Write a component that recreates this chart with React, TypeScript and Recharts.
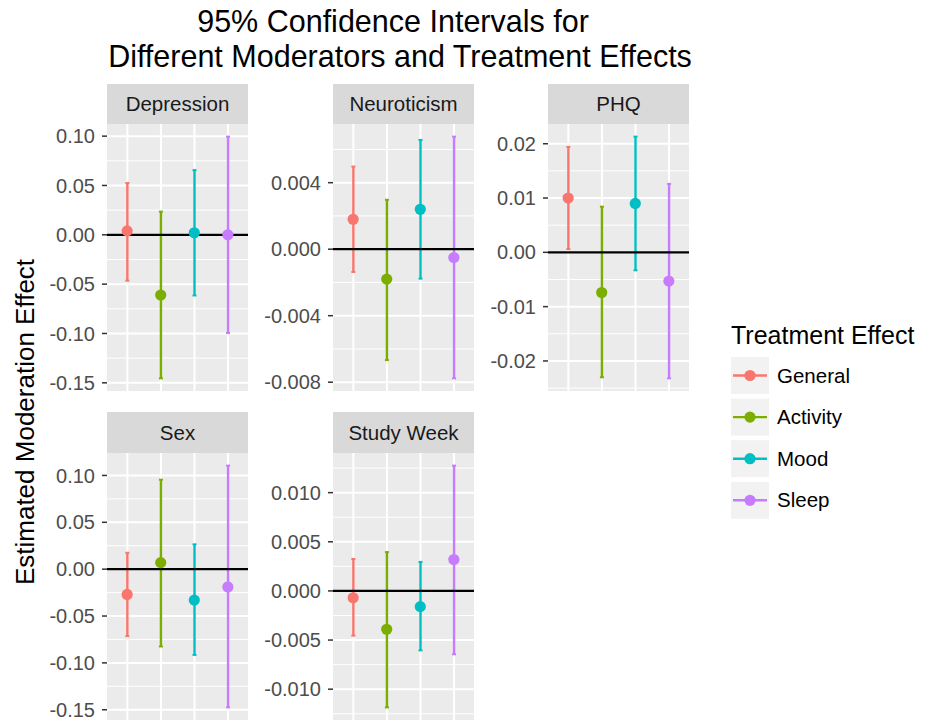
import React from 'react';
import {
  ComposedChart,
  CartesianGrid,
  XAxis,
  YAxis,
  Bar,
  Line,
  ReferenceLine,
} from 'recharts';

// ---------- data ----------
const TREATMENTS = ['General', 'Activity', 'Mood', 'Sleep'];
const TITLE_LINES = ['95% Confidence Intervals for', 'Different Moderators and Treatment Effects'];
const Y_LABEL = 'Estimated Moderation Effect';
const LEGEND_TITLE = 'Treatment Effect';

const depressionEst = [0.004, -0.061, 0.002, 0.0];
const depressionLower = [-0.047, -0.146, -0.062, -0.1];
const depressionUpper = [0.053, 0.024, 0.066, 0.1];
const depressionTicks = [-0.15, -0.1, -0.05, 0, 0.05, 0.1];

const neuroticismEst = [0.0018, -0.0018, 0.0024, -0.0005];
const neuroticismLower = [-0.0014, -0.0067, -0.0018, -0.0078];
const neuroticismUpper = [0.005, 0.003, 0.0066, 0.0068];
const neuroticismTicks = [-0.008, -0.004, 0, 0.004];

const phqEst = [0.01, -0.0074, 0.009, -0.0053];
const phqLower = [0.0005, -0.0231, -0.0034, -0.0233];
const phqUpper = [0.0195, 0.0085, 0.0214, 0.0127];
const phqTicks = [-0.02, -0.01, 0, 0.01, 0.02];

const sexEst = [-0.027, 0.007, -0.033, -0.019];
const sexLower = [-0.072, -0.083, -0.092, -0.148];
const sexUpper = [0.018, 0.096, 0.027, 0.111];
const sexTicks = [-0.15, -0.1, -0.05, 0, 0.05, 0.1];

const weekEst = [-0.0007, -0.0039, -0.0016, 0.0032];
const weekLower = [-0.0046, -0.0119, -0.0061, -0.0065];
const weekUpper = [0.0033, 0.004, 0.003, 0.0128];
const weekTicks = [-0.01, -0.005, 0, 0.005, 0.01];

// ---------- styles ----------
const COLORS: Record<string, string> = {
  General: '#F8766D',
  Activity: '#7CAE00',
  Mood: '#00BFC4',
  Sleep: '#C77CFF',
};
const FONT = '"Liberation Sans", Arial, Helvetica, sans-serif';
const YW = 80; // y axis width
const PW = 141; // panel width
const PH = 267; // panel height
const PADV = 12; // room above/below the panel for edge tick labels

const PANELS = [
  { name: 'Depression', est: depressionEst, lower: depressionLower, upper: depressionUpper, ticks: depressionTicks, digits: 2, x: 107, y: 124, stripY: 84 },
  { name: 'Neuroticism', est: neuroticismEst, lower: neuroticismLower, upper: neuroticismUpper, ticks: neuroticismTicks, digits: 3, x: 333, y: 124, stripY: 84 },
  { name: 'PHQ', est: phqEst, lower: phqLower, upper: phqUpper, ticks: phqTicks, digits: 2, x: 548, y: 124, stripY: 84 },
  { name: 'Sex', est: sexEst, lower: sexLower, upper: sexUpper, ticks: sexTicks, digits: 2, x: 107, y: 453, stripY: 412 },
  { name: 'Study Week', est: weekEst, lower: weekLower, upper: weekUpper, ticks: weekTicks, digits: 3, x: 333, y: 453, stripY: 412 },
];

const ErrorShape = (props: any) => {
  const { x, y, width, height, payload } = props;
  if (x == null || y == null) return null;
  const cx = x + width / 2;
  const top = Math.min(y, y + height);
  const h = Math.abs(height);
  const color = COLORS[payload.treatment];
  return (
    <g>
      <rect x={cx - 1.2} y={top} width={2.4} height={h} fill={color} />
      <rect x={cx - 2} y={top - 0.5} width={4} height={2} fill={color} />
      <rect x={cx - 2} y={top + h - 1.5} width={4} height={2} fill={color} />
    </g>
  );
};

// vertical major grid line at each category, drawn as the bar's background
const GridBackground = (props: any) => {
  const { x, y, width, height } = props;
  if (x == null || y == null) return <g />;
  return <rect x={x + width / 2 - 1} y={y} width={2} height={height} fill="#FFFFFF" />;
};

const renderDot = (props: any) => {
  const { cx, cy, payload, index } = props;
  if (cx == null || cy == null) return <g key={`d-${index}`} />;
  return <circle key={`d-${index}`} cx={cx} cy={cy} r={5.6} fill={COLORS[payload.treatment]} />;
};

function Panel(p: any) {
  const data = TREATMENTS.map((t, i) => ({
    treatment: t,
    pos: i + 1,
    est: p.est[i],
    ci: [p.lower[i], p.upper[i]],
  }));
  const lo = Math.min(...p.lower);
  const hi = Math.max(...p.upper);
  const pad = (hi - lo) * 0.05;
  const domain = [lo - pad, hi + pad];
  const step = p.ticks[1] - p.ticks[0];
  const minor: number[] = [];
  const first = p.ticks[0] - step / 2;
  for (let v = first; v <= domain[1] + 1e-12; v += step) {
    if (v >= domain[0]) minor.push(v);
  }
  return (
    <>
      <div
        style={{
          position: 'absolute',
          left: p.x,
          top: p.stripY,
          width: PW,
          height: p.y - p.stripY,
          background: '#D9D9D9',
          color: '#1A1A1A',
          fontSize: 20.5,
          display: 'flex',
          alignItems: 'center',
          justifyContent: 'center',
        }}
      >
        {p.name}
      </div>
      <div style={{ position: 'absolute', left: p.x - YW, top: p.y - PADV }}>
        <ComposedChart
          width={YW + PW}
          height={PH + 2 * PADV}
          data={data}
          margin={{ top: PADV, right: 0, bottom: PADV, left: 0 }}
        >
          <CartesianGrid
            horizontalValues={minor}
            vertical={false}
            stroke="#FFFFFF"
            strokeWidth={1}
            fill="#EBEBEB"
            fillOpacity={1}
          />
          <CartesianGrid
            horizontalValues={p.ticks}
            vertical={false}
            stroke="#FFFFFF"
            strokeWidth={2}
          />
          <XAxis
            type="number"
            dataKey="pos"
            domain={[0.4, 4.6]}
            ticks={[1, 2, 3, 4]}
            hide
          />
          <YAxis
            type="number"
            domain={domain}
            ticks={p.ticks}
            interval={0}
            tickFormatter={(v: number) => v.toFixed(p.digits)}
            width={YW}
            tick={{ fill: '#4D4D4D', fontSize: 20, fontFamily: FONT }}
            tickLine={{ stroke: '#333333', strokeWidth: 1.5 }}
            tickSize={5}
            tickMargin={7}
            axisLine={false}
          />
          <ReferenceLine y={0} stroke="#000000" strokeWidth={2.2} />
          <Bar
            dataKey="ci"
            barSize={10}
            shape={ErrorShape}
            background={GridBackground}
            isAnimationActive={false}
          />
          <Line
            dataKey="est"
            stroke="none"
            dot={renderDot}
            activeDot={false}
            isAnimationActive={false}
          />
        </ComposedChart>
      </div>
    </>
  );
}

export default function App() {
  return (
    <div
      style={{
        position: 'fixed',
        left: 0,
        top: 0,
        width: 929,
        height: 722,
        overflow: 'hidden',
        background: '#FFFFFF',
        fontFamily: FONT,
      }}
    >
      {PANELS.map((p) => (
        <Panel key={p.name} {...p} />
      ))}
      <svg
        width={929}
        height={722}
        style={{ position: 'absolute', left: 0, top: 0, pointerEvents: 'none' }}
        fontFamily={FONT}
      >
        <text x={393} y={32} textAnchor="middle" fontSize={30.5} fill="#000">
          {TITLE_LINES[0]}
        </text>
        <text x={400} y={66.5} textAnchor="middle" fontSize={30.5} fill="#000">
          {TITLE_LINES[1]}
        </text>
        <text
          x={0}
          y={0}
          transform="translate(34,422) rotate(-90)"
          textAnchor="middle"
          fontSize={26}
          fill="#000"
        >
          {Y_LABEL}
        </text>
        <text x={731} y={344} fontSize={25} fill="#000">
          {LEGEND_TITLE}
        </text>
        {TREATMENTS.map((t, i) => {
          const top = 357 + i * 41.6;
          const cy = top + 18.5;
          return (
            <g key={t}>
              <rect x={731} y={top} width={38} height={37} fill="#F2F2F2" />
              <line x1={733} x2={767} y1={cy} y2={cy} stroke={COLORS[t]} strokeWidth={2.4} />
              <circle cx={750} cy={cy} r={5.6} fill={COLORS[t]} />
              <text x={777} y={cy + 7} fontSize={20.5} fill="#000">
                {t}
              </text>
            </g>
          );
        })}
      </svg>
    </div>
  );
}
